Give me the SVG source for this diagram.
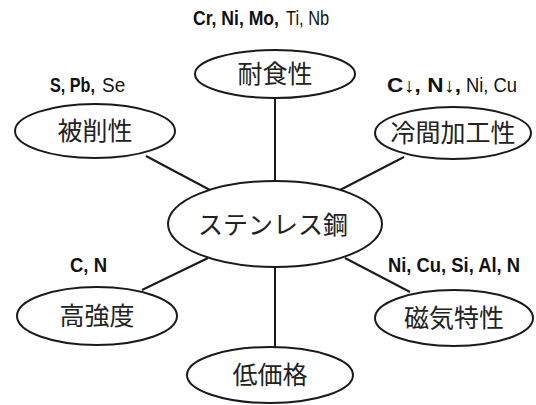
<svg xmlns="http://www.w3.org/2000/svg" width="536" height="405" viewBox="0 0 536 405">
<style>
.n{fill:#fff;stroke:#1a1a1a;stroke-width:2}
.c{stroke:#1a1a1a;stroke-width:2;fill:none}
.j{font-family:"Noto Sans CJK JP",sans-serif;font-size:25px;fill:#222;text-anchor:middle}
.l{font-family:"Liberation Sans",sans-serif;font-size:20px;fill:#111}
.b{font-weight:bold}
</style>
<rect width="536" height="405" fill="#fff"/>
<g id="connectors">
<line class="c" x1="275" y1="97" x2="275" y2="182"/>
<line class="c" x1="146" y1="156" x2="210" y2="190"/>
<line class="c" x1="404" y1="157" x2="340" y2="190"/>
<line class="c" x1="142" y1="290" x2="208" y2="258"/>
<line class="c" x1="410" y1="292" x2="345" y2="258"/>
<line class="c" x1="275" y1="266" x2="275" y2="347"/>
</g>
<g id="center">
<ellipse class="n" cx="275" cy="224" rx="107" ry="43"/>
<text class="j" x="273" y="234" font-size="26">ステンレス鋼</text>
</g>
<g id="corrosion">
<ellipse class="n" cx="275" cy="74" rx="80" ry="24"/>
<text class="j" x="275" y="83">耐食性</text>
<text class="l b" transform="translate(193,25) scale(0.88,1)">Cr, Ni, Mo,</text>
<text class="l" transform="translate(286,25) scale(0.82,1)">Ti, Nb</text>
</g>
<g id="machinability">
<ellipse class="n" cx="95" cy="131" rx="80" ry="27"/>
<text class="j" x="95" y="140">被削性</text>
<text class="l b" transform="translate(50,92) scale(0.81,1)">S, Pb,</text>
<text class="l" transform="translate(102,92) scale(0.95,1)">Se</text>
</g>
<g id="coldwork">
<ellipse class="n" cx="453" cy="133" rx="78" ry="26"/>
<text class="j" x="453" y="142">冷間加工性</text>
<text class="l b" x="387" y="92" textLength="74" lengthAdjust="spacingAndGlyphs">C↓, N↓,</text>
<text class="l" x="466" y="92" textLength="51" lengthAdjust="spacingAndGlyphs">Ni, Cu</text>
</g>
<g id="strength">
<ellipse class="n" cx="97" cy="316" rx="80" ry="29"/>
<text class="j" x="97" y="325">高強度</text>
<text class="l b" x="70" y="272" textLength="37" lengthAdjust="spacingAndGlyphs">C, N</text>
</g>
<g id="magnetic">
<ellipse class="n" cx="454" cy="318" rx="79" ry="28"/>
<text class="j" x="454" y="327">磁気特性</text>
<text class="l b" x="388" y="272" textLength="132" lengthAdjust="spacingAndGlyphs">Ni, Cu, Si, Al, N</text>
</g>
<g id="lowcost">
<ellipse class="n" cx="270" cy="375" rx="83" ry="28"/>
<text class="j" x="270" y="384">低価格</text>
</g>
</svg>
